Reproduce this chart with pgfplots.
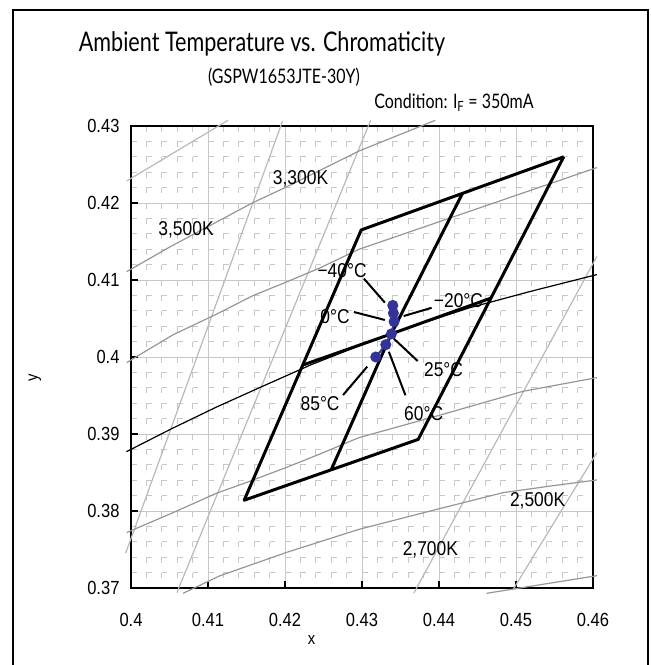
\documentclass[border=0pt]{standalone}
\usepackage{fontspec}
\setmainfont{Liberation Sans}[FakeStretch=0.87]
\newfontfamily\titlefont{Lato}[FakeStretch=0.8]
\usepackage{pgfplots}
\pgfplotsset{compat=1.18}

\definecolor{isoline}{RGB}{150,150,150}
\definecolor{isolight}{RGB}{185,185,185}
\definecolor{gridc}{RGB}{200,200,200}
\definecolor{ptblue}{RGB}{51,51,153}

\begin{document}
\begin{tikzpicture}
\useasboundingbox (-131bp,-77bp) rectangle (520bp,588bp);
\draw[line width=2bp] (-118bp,-95bp) -- (-118bp,578bp) -- (517bp,578bp) -- (517bp,-95bp);

\node[font=\titlefont\fontsize{27bp}{30bp}\selectfont] at (131bp,544bp) {Ambient Temperature vs. Chromaticity};
\node[font=\titlefont\fontsize{20bp}{23bp}\selectfont] at (153bp,511bp) {(GSPW1653JTE-30Y)};
\node[font=\titlefont\fontsize{20bp}{23bp}\selectfont] at (323bp,485bp) {Condition: I\textsubscript{F} = 350mA};

\begin{axis}[
    at={(0,0)}, anchor=south west,
    scale only axis, width=462bp, height=462bp,
    xmin=0.4, xmax=0.46, ymin=0.37, ymax=0.43,
    clip=false,
    axis line style={line width=2bp},
    xtick={0.4,0.41,0.42,0.43,0.44,0.45,0.46},
    xticklabels={0.4,0.41,0.42,0.43,0.44,0.45,0.46},
    ytick={0.37,0.38,0.39,0.4,0.41,0.42,0.43},
    yticklabels={0.37,0.38,0.39,0.4,0.41,0.42,0.43},
    minor tick num=4,
    tick align=inside, xtick pos=bottom, ytick pos=left,
    major tick length=7bp, minor tick length=0bp,
    tick style={black, line width=1.5bp},
    ticklabel style={font=\fontsize{19bp}{21bp}\selectfont},
    yticklabel style={xshift=-8bp},
    xticklabel style={yshift=-22bp},
    grid=both,
    major grid style={draw=gridc, line width=0.9bp},
    minor x grid style={draw=gridc, line width=1.1bp, dash pattern=on 5.6bp off 9.8bp, dash phase=5.6bp},
    minor y grid style={draw=gridc, line width=1.1bp, dash pattern=on 5.6bp off 9.8bp},
    xlabel={x}, ylabel={y},
    label style={font=\fontsize{17bp}{19bp}\selectfont},
    x label style={at={(axis description cs:0.391,0)}, anchor=center, yshift=-52bp},
    y label style={at={(axis description cs:0,0.455)}, anchor=center, yshift=96bp},
]
% steep isotemperature lines
\addplot[isolight, line width=1.2bp] coordinates {(0.41969,0.43065) (0.3993,0.3745)};
\addplot[isolight, line width=1.2bp] coordinates {(0.43112,0.43074) (0.40596,0.3694)};
\addplot[isolight, line width=1.2bp] coordinates {(0.4605,0.41305) (0.43672,0.36931)};
\addplot[isolight, line width=1.2bp] coordinates {(0.4605,0.38758) (0.44964,0.36983)};
% gentle lines
\addplot[isolight, line width=1.2bp] coordinates {(0.39944,0.42286) (0.41259,0.43074)};
\addplot[isoline, line width=1.2bp] coordinates {
 (0.39944,0.41108) (0.40504,0.41429) (0.41582,0.42004) (0.42,0.42199) (0.42961,0.42675) (0.43952,0.43074)};
\addplot[isoline, line width=1.2bp] coordinates {
 (0.39944,0.39927) (0.40159,0.40057) (0.40547,0.40289) (0.41108,0.40555) (0.41581,0.40796)
 (0.42,0.40966) (0.42443,0.41152) (0.42961,0.41399) (0.44473,0.41918) (0.4605,0.4246)};
\addplot[isoline, line width=1.2bp] coordinates {
 (0.39944,0.3772) (0.40547,0.37979) (0.41108,0.3823) (0.41496,0.38369) (0.42013,0.38564)
 (0.42443,0.38736) (0.42961,0.38953) (0.43973,0.39234) (0.45094,0.39555) (0.4605,0.39732)};
\addplot[isoline, line width=1.2bp] coordinates {
 (0.40676,0.36931) (0.41151,0.37157) (0.42013,0.3746) (0.42961,0.37762) (0.43973,0.38022)
 (0.44835,0.38239) (0.45482,0.38329) (0.4605,0.38403)};
\addplot[isoline, line width=1.2bp] coordinates {(0.44619,0.36931) (0.4605,0.3716)};
% black body locus
\addplot[black, line width=1.2bp] coordinates {
 (0.3994,0.3877) (0.4053,0.3907) (0.4111,0.3935) (0.4171,0.3962) (0.4234,0.3990)
 (0.4300,0.4016) (0.4369,0.4041) (0.4440,0.4064) (0.4518,0.4085) (0.4605,0.4107)};
% ANSI quadrangle
\addplot[black, line width=3bp, line join=round] coordinates {
 (0.4562,0.4260) (0.4299,0.4165) (0.4147,0.3814) (0.4373,0.3893) (0.4562,0.4260)};
\addplot[black, line width=3bp, line join=round] coordinates {
 (0.44305,0.42125) (0.4338,0.4030) (0.426,0.38535)};
\addplot[black, line width=3bp, line join=round] coordinates {
 (0.4223,0.39895) (0.4338,0.4030) (0.44675,0.40765)};
% leaders
\draw[black, line width=2bp] (axis cs:0.43025,0.41018) -- (axis cs:0.43297,0.40706);
\draw[black, line width=2bp] (axis cs:0.43904,0.40639) -- (axis cs:0.43542,0.40532);
\draw[black, line width=2bp] (axis cs:0.42896,0.40584) -- (axis cs:0.43297,0.40481);
\draw[black, line width=2bp] (axis cs:0.43413,0.40239) -- (axis cs:0.43723,0.39948);
\draw[black, line width=2bp] (axis cs:0.43349,0.40068) -- (axis cs:0.43564,0.39503);
\draw[black, line width=2bp] (axis cs:0.43068,0.39875) -- (axis cs:0.42754,0.39506);
% measured chromaticity
\addplot[ptblue, line width=2bp, mark=*, mark size=4.5bp, mark options={fill=ptblue}] coordinates {
 (0.4340,0.4067) (0.43408,0.4057) (0.43417,0.4046) (0.43382,0.4030) (0.43309,0.4016) (0.43179,0.4000)};
% labels
\begin{scope}[every node/.style={font=\fontsize{20bp}{22bp}\selectfont, inner sep=0pt}]
\node at (axis cs:0.42741,0.41126) {−40°C};
\node at (axis cs:0.44253,0.40737) {−20°C};
\node at (axis cs:0.4265,0.40529) {0°C};
\node at (axis cs:0.44059,0.3984) {25°C};
\node at (axis cs:0.43801,0.39269) {60°C};
\node at (axis cs:0.42456,0.39399) {85°C};
\node at (axis cs:0.40715,0.41658) {3,500K};
\node at (axis cs:0.42202,0.42318) {3,300K};
\node at (axis cs:0.45281,0.38135) {2,500K};
\node at (axis cs:0.43888,0.37492) {2,700K};
\end{scope}
\end{axis}
\end{tikzpicture}
\end{document}
